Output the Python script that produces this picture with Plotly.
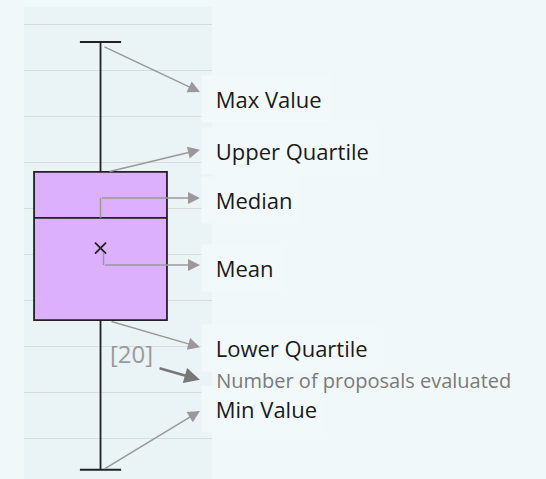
import plotly.graph_objects as go

# ---- data (box-plot explainer) ----
stat_names = ["Max Value", "Upper Quartile", "Median", "Mean", "Lower Quartile", "Min Value"]
upper_fence = [9.63]
q3_vals = [6.80]
median_vals = [5.80]
mean_vals = [5.14]
q1_vals = [3.57]
lower_fence = [0.31]
n_evaluated = [20]
count_label = "Number of proposals evaluated"

# label vertical positions (y units)
label_y = {"Max Value": 8.39, "Upper Quartile": 7.25, "Median": 6.18, "Mean": 4.70,
           "Lower Quartile": 2.97, "Min Value": 1.63}
count_label_y = 2.25

X_RANGE = [-0.407, 0.593]
Y_RANGE = [0.109, 10.392]
TIP_X = 0.529

fig = go.Figure()
fig.add_trace(go.Box(
    x=[0], q1=q1_vals, median=median_vals, q3=q3_vals,
    lowerfence=lower_fence, upperfence=upper_fence,
    width=0.707, whiskerwidth=0.31,
    fillcolor="#dcb0fc", line=dict(color="#222222", width=1.8),
    boxpoints=False, hoverinfo="skip", showlegend=False,
))
fig.add_trace(go.Scatter(
    x=[0], y=mean_vals, mode="markers",
    marker=dict(symbol="x-thin", size=11, line=dict(color="#222222", width=1.8)),
    hoverinfo="skip", showlegend=False,
))

ARROW = "#999999"
annotations = []

def arrow(x0, y0, x1, y1, color=ARROW, width=1.5, size=1.6):
    annotations.append(dict(
        x=x1, y=y1, ax=x0, ay=y0, xref="x", yref="y", axref="x", ayref="y",
        text="", showarrow=True, arrowhead=2, arrowsize=size, arrowwidth=width,
        arrowcolor=color, standoff=0, startstandoff=0,
    ))

shapes = [
    dict(type="line", xref="x", yref="y", x0=0.0, x1=0.0,
         y0=median_vals[0], y1=label_y["Median"] + 0.05,
         line=dict(color=ARROW, width=1.5)),
    dict(type="line", xref="x", yref="y", x0=0.016, x1=0.016,
         y0=mean_vals[0] - 0.1, y1=label_y["Mean"] + 0.07,
         line=dict(color=ARROW, width=1.5)),
]

LABEL_X = 0.9415
for name in stat_names:
    annotations.append(dict(
        x=LABEL_X, xref="paper", y=label_y[name], yref="y", xanchor="left", yanchor="middle",
        text="&nbsp;" + name, showarrow=False, align="left",
        font=dict(family="Open Sans", size=22, color="#1a1a1a"),
        bgcolor="rgba(242,249,251,1)", borderpad=8,
    ))

arrow(0.013, upper_fence[0] - 0.09, TIP_X, label_y["Max Value"] + 0.15)
arrow(0.04, q3_vals[0], TIP_X, label_y["Upper Quartile"] + 0.03)
arrow(0.0, label_y["Median"] + 0.05, TIP_X, label_y["Median"] + 0.05)
arrow(0.016, label_y["Mean"] + 0.07, TIP_X, label_y["Mean"] + 0.07)
arrow(0.05, q1_vals[0] - 0.02, TIP_X, label_y["Lower Quartile"] + 0.01)
arrow(0.306, 2.53, TIP_X, count_label_y + 0.02, color="#777777", width=2.6, size=1.2)
arrow(0.013, lower_fence[0], TIP_X, label_y["Min Value"] - 0.04)

annotations.append(dict(
    x=LABEL_X, xref="paper", y=count_label_y, yref="y", xanchor="left", yanchor="middle",
    text="&nbsp;" + count_label, showarrow=False, align="left",
    font=dict(family="Open Sans", size=20, color="#7a7a7a"), borderpad=9,
))
annotations.append(dict(
    x=0.167, y=2.85, xref="x", yref="y", text="[" + str(n_evaluated[0]) + "]",
    showarrow=False, font=dict(family="Open Sans", size=24, color="#9a9a9a"),
))

fig.update_layout(
    width=546, height=479,
    margin=dict(l=24, r=334, t=7, b=0),
    paper_bgcolor="#f1f8fa", plot_bgcolor="#eaf3f6",
    xaxis=dict(range=X_RANGE, visible=False, fixedrange=True),
    yaxis=dict(range=Y_RANGE, dtick=1, tick0=0, showgrid=True, gridcolor="#d9dcdd",
               gridwidth=1, zeroline=False, showticklabels=False, ticks="", fixedrange=True),
    annotations=annotations, shapes=shapes,
    showlegend=False,
)

fig.write_html(
    "out.html",
    config={"displayModeBar": False, "staticPlot": True},
    post_script="document.body.style.margin='0';document.body.style.padding='0';"
                "document.body.style.overflow='hidden';",
)
